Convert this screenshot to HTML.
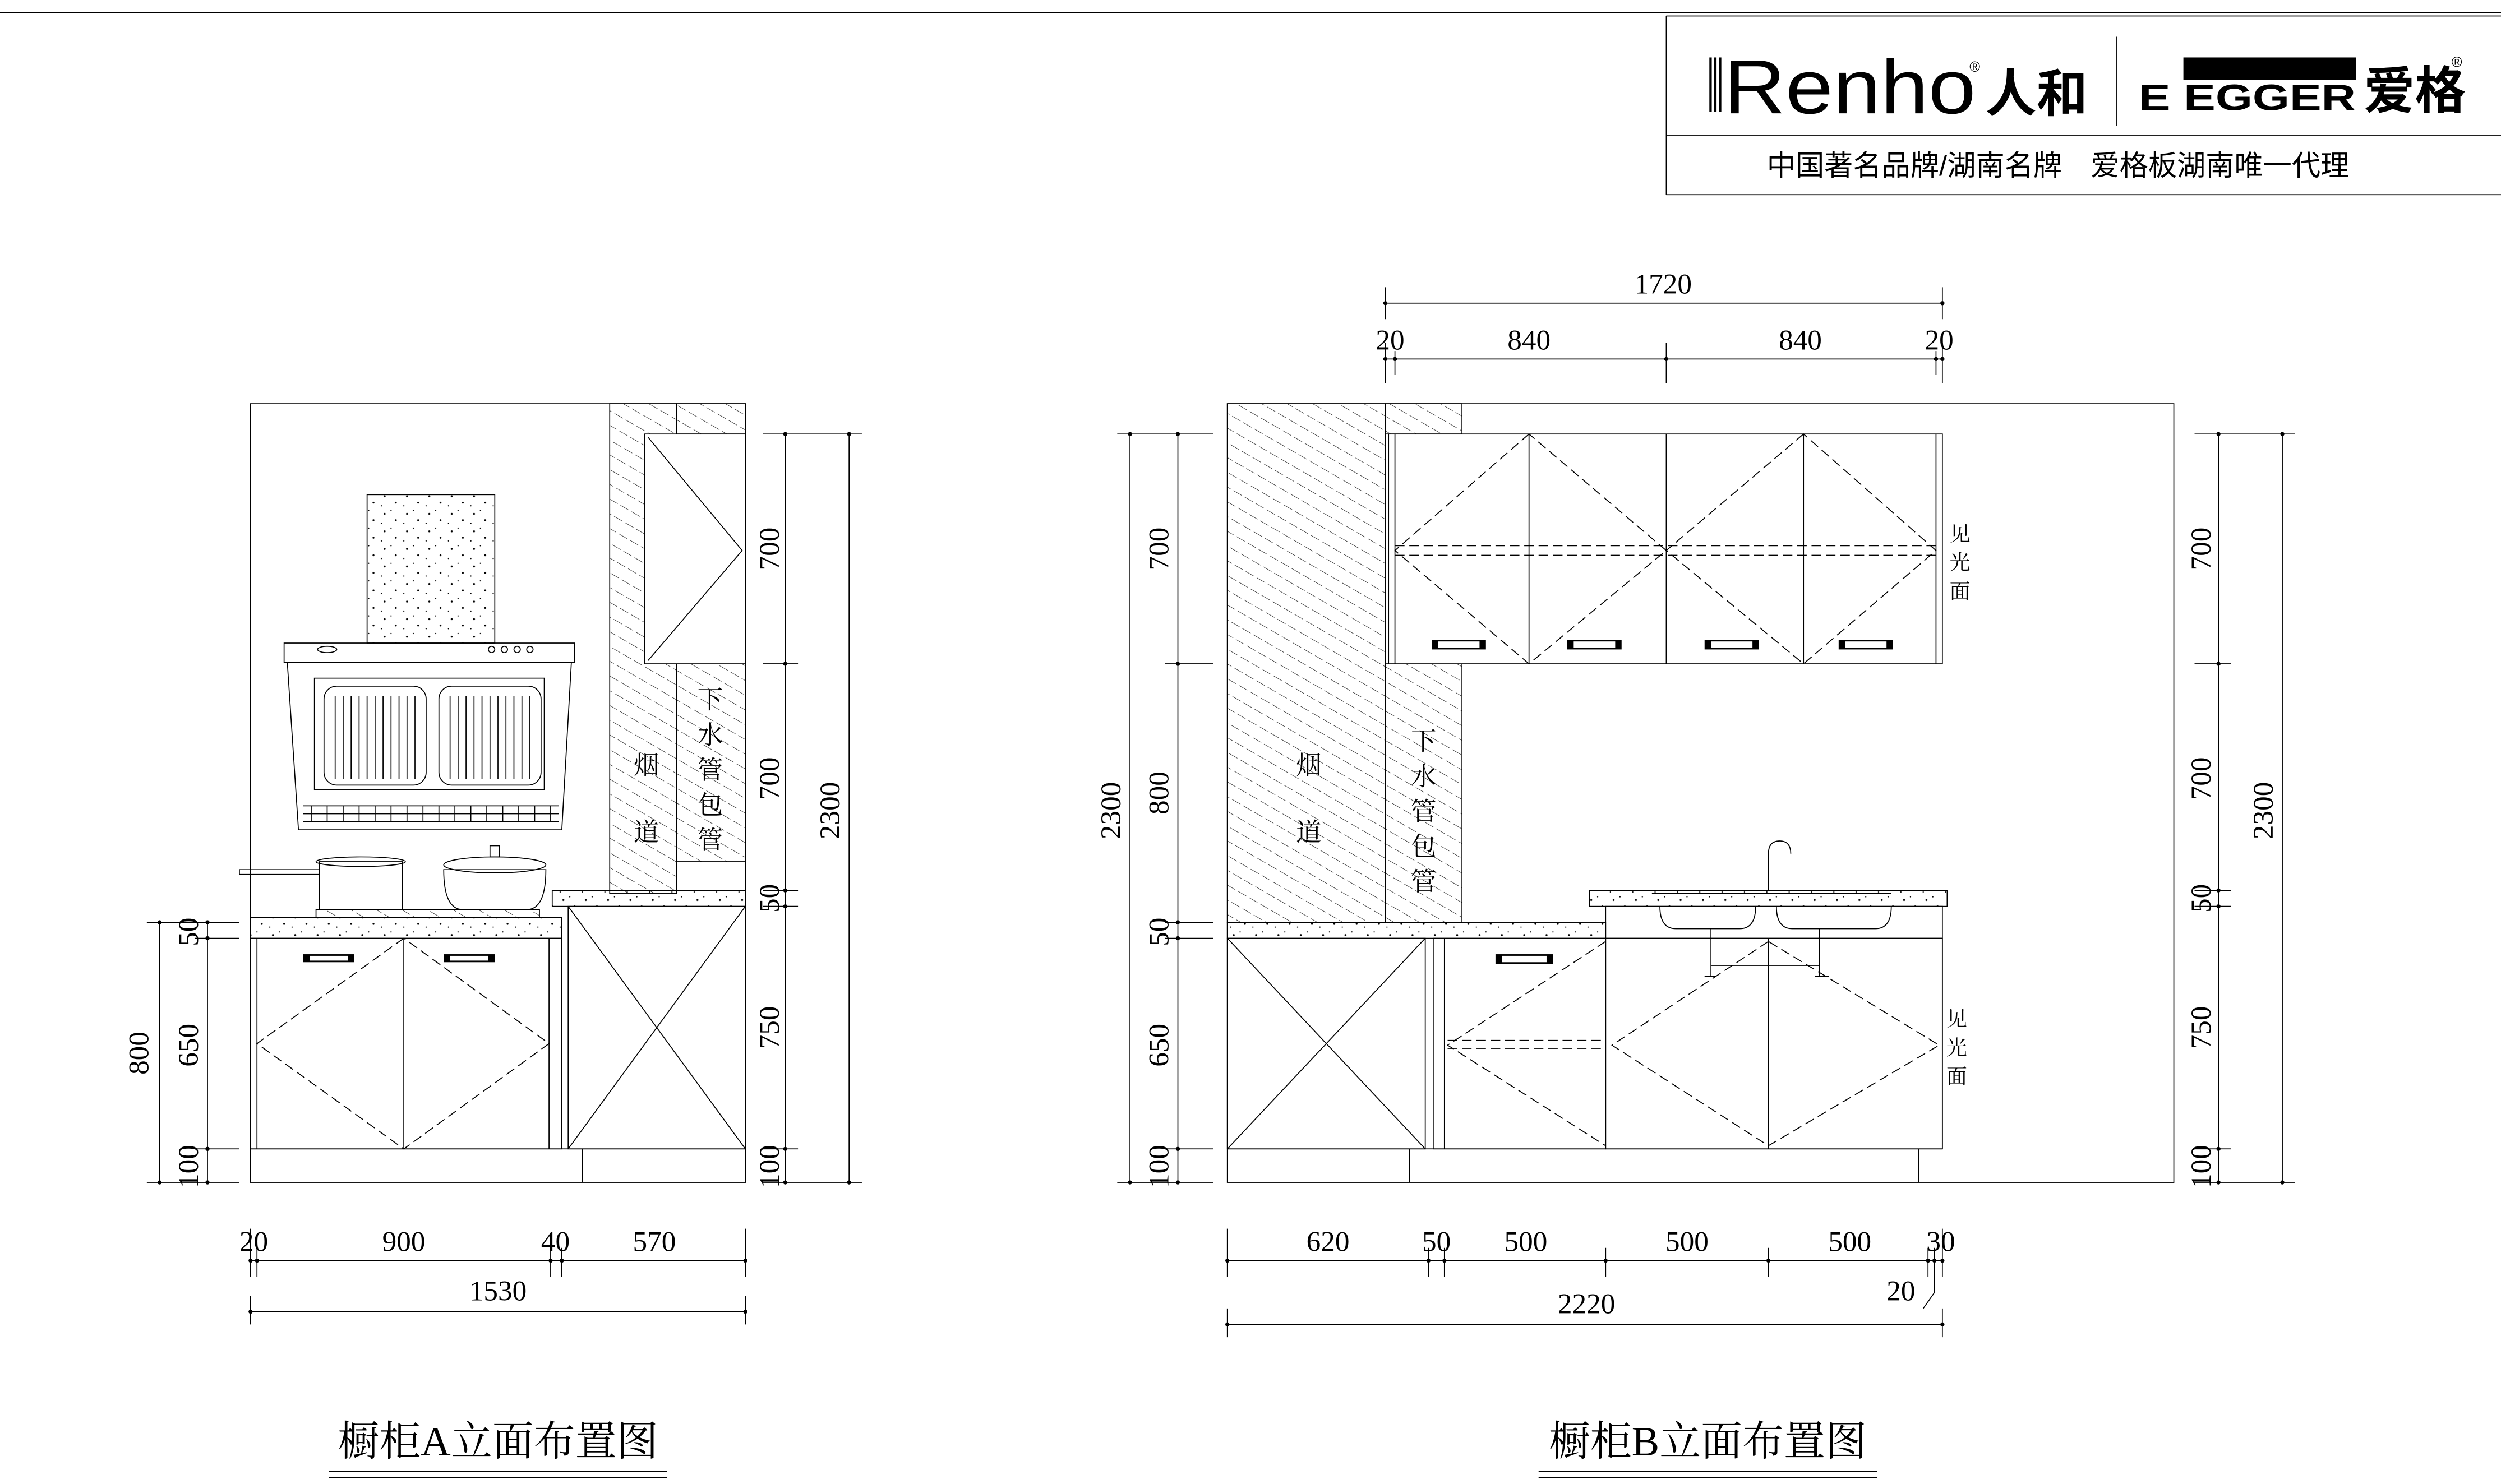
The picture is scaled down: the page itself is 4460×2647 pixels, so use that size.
<!DOCTYPE html>
<html><head><meta charset="utf-8"><style>
html,body{margin:0;padding:0;background:#fff;}
svg{display:block;}
text{font-family:"Liberation Serif","Noto Serif CJK SC",serif;fill:#000;}
.s{font-family:"Liberation Sans","Noto Sans CJK SC",sans-serif;}
</style></head><body>
<svg width="4460" height="2647" viewBox="0 0 1567 930" preserveAspectRatio="none" xmlns="http://www.w3.org/2000/svg">
<defs>
<pattern id="h" width="8" height="8" patternUnits="userSpaceOnUse" patternTransform="rotate(-60)">
<line x1="0" y1="0" x2="0" y2="8" stroke="#000" stroke-width="0.5" stroke-dasharray="5 2"/>
</pattern>
<pattern id="g" width="14" height="11" patternUnits="userSpaceOnUse">
<circle cx="3" cy="3" r="0.6" fill="#000"/><circle cx="10" cy="7" r="0.6" fill="#000"/><circle cx="7" cy="1" r="0.4" fill="#000"/><circle cx="1" cy="9" r="0.4" fill="#000"/>
</pattern>
</defs>
<rect width="1567" height="930" fill="#fff"/>
<g fill="none" stroke="#000" stroke-width="0.6">
<line x1="0" y1="8" x2="1567" y2="8" stroke-width="0.8"/>
<line x1="1044" y1="10" x2="1044" y2="122"/>
<line x1="1044" y1="10" x2="1567" y2="10"/>
<line x1="1044" y1="85" x2="1567" y2="85"/>
<line x1="1044" y1="122" x2="1567" y2="122"/>
<line x1="1326" y1="23" x2="1326" y2="79"/>
</g>
<!-- logo -->
<g>
<rect x="1071" y="36" width="1.5" height="34"/><rect x="1074" y="36" width="1.5" height="34"/><rect x="1077" y="36" width="1.5" height="34"/>
<text x="1080" y="71" class="s" font-size="48" textLength="158" lengthAdjust="spacingAndGlyphs">Renho</text>
<text x="1234" y="45" class="s" font-size="9">®</text>
<text x="1244" y="70" class="s" font-size="32" font-weight="bold">人和</text>
<rect x="1368" y="36" width="108" height="14"/>
<text x="1340" y="69" class="s" font-size="23" font-weight="bold" textLength="136" lengthAdjust="spacingAndGlyphs">E EGGER</text>
<text x="1481" y="68" class="s" font-size="32" font-weight="bold">爱格</text>
<text x="1536" y="42" class="s" font-size="9">®</text>
<text x="1107" y="110" class="s" font-size="18">中国著名品牌/湖南名牌　爱格板湖南唯一代理</text>
</g>

<!-- ===== Drawing A ===== -->
<g fill="none" stroke="#000" stroke-width="0.6">
<rect x="157" y="253" width="310" height="488"/>
<rect x="382" y="253" width="42" height="307" fill="url(#h)"/>
<rect x="424" y="253" width="43" height="19" fill="url(#h)"/>
<rect x="424" y="416" width="43" height="124" fill="url(#h)"/>
<rect x="404" y="272" width="63" height="144" fill="#fff"/>
<polyline points="406,274 465,345 406,414"/>
<rect x="157" y="575" width="195" height="13" fill="url(#g)"/>
<rect x="346" y="558" width="121" height="10" fill="url(#g)"/>
<rect x="157" y="588" width="195" height="132"/>
<path d="M161 588 V720 M344 588 V720"/>
<line x1="253" y1="588" x2="253" y2="720"/>
<polygon points="253,588 161,654 253,720 344,654" stroke-dasharray="6 3"/>
<rect x="356" y="568" width="111" height="152"/>
<line x1="356" y1="568" x2="467" y2="720"/><line x1="467" y1="568" x2="356" y2="720"/>
<line x1="157" y1="720" x2="467" y2="720"/>
<line x1="365" y1="720" x2="365" y2="741"/>
<!-- hood -->
<rect x="230" y="310" width="80" height="93" fill="url(#g)"/>
<rect x="178" y="403" width="182" height="12"/>
<polygon points="180,415 358,415 352,520 187,520"/>
<rect x="197" y="425" width="144" height="70"/>
<rect x="203" y="430" width="64" height="62" rx="8"/>
<rect x="275" y="430" width="64" height="62" rx="8"/>
<path d="M210 436 V488 M215 436 V488 M220 436 V488 M225 436 V488 M230 436 V488 M235 436 V488 M240 436 V488 M245 436 V488 M250 436 V488 M255 436 V488 M260 436 V488 M282 436 V488 M287 436 V488 M292 436 V488 M297 436 V488 M302 436 V488 M307 436 V488 M312 436 V488 M317 436 V488 M322 436 V488 M327 436 V488 M332 436 V488"/>
<path d="M190 505 H350 M190 510 H350 M190 515 H350"/>
<path d="M195 505 V515 M205 505 V515 M215 505 V515 M225 505 V515 M235 505 V515 M245 505 V515 M255 505 V515 M265 505 V515 M275 505 V515 M285 505 V515 M295 505 V515 M305 505 V515 M315 505 V515 M325 505 V515 M335 505 V515 M345 505 V515"/>
<ellipse cx="205" cy="407" rx="6" ry="2"/>
<circle cx="308" cy="407" r="2"/><circle cx="316" cy="407" r="2"/><circle cx="324" cy="407" r="2"/><circle cx="332" cy="407" r="2"/>
<rect x="200" y="540" width="52" height="30"/>
<path d="M200 545 H150 V548 H200"/>
<ellipse cx="226" cy="540" rx="28" ry="3"/>
<path d="M278 545 Q278 570 290 570 H330 Q342 570 342 545 Z"/>
<ellipse cx="310" cy="542" rx="32" ry="5"/>
<rect x="307" y="530" width="6" height="7"/>
<rect x="198" y="570" width="140" height="5" fill="url(#h)"/>
<line x1="100" y1="578" x2="100" y2="741"/>
<line x1="130" y1="578" x2="130" y2="741"/>
<path d="M92 578 H150 M92 741 H150 M122 588 H150 M122 720 H150"/>
<line x1="492" y1="272" x2="492" y2="741"/>
<line x1="532" y1="272" x2="532" y2="741"/>
<path d="M478 272 H540 M478 416 H500 M478 558 H500 M478 568 H500 M478 720 H500 M478 741 H540"/>
<line x1="157" y1="790" x2="467" y2="790"/>
<path d="M157 770 V800 M161 782 V800 M345 782 V800 M352 782 V800 M467 770 V800"/>
<line x1="157" y1="822" x2="467" y2="822"/>
<path d="M157 812 V830 M467 812 V830"/>
</g>
<g fill="#000">
<circle cx="100" cy="578" r="1.3"/><circle cx="100" cy="741" r="1.3"/><circle cx="130" cy="578" r="1.3"/><circle cx="130" cy="588" r="1.3"/><circle cx="130" cy="720" r="1.3"/><circle cx="130" cy="741" r="1.3"/>
<circle cx="492" cy="272" r="1.3"/><circle cx="492" cy="416" r="1.3"/><circle cx="492" cy="558" r="1.3"/><circle cx="492" cy="568" r="1.3"/><circle cx="492" cy="720" r="1.3"/><circle cx="492" cy="741" r="1.3"/><circle cx="532" cy="272" r="1.3"/><circle cx="532" cy="741" r="1.3"/>
<circle cx="157" cy="790" r="1.3"/><circle cx="161" cy="790" r="1.3"/><circle cx="345" cy="790" r="1.3"/><circle cx="352" cy="790" r="1.3"/><circle cx="467" cy="790" r="1.3"/><circle cx="157" cy="822" r="1.3"/><circle cx="467" cy="822" r="1.3"/>
<rect x="190" y="598" width="32" height="5"/><rect x="278" y="598" width="32" height="5"/>
</g>
<g fill="#fff"><rect x="194" y="599" width="24" height="3"/><rect x="282" y="599" width="24" height="3"/></g>
<g font-size="18">
<text transform="translate(93,660) rotate(-90)" text-anchor="middle">800</text>
<text transform="translate(124,655) rotate(-90)" text-anchor="middle">650</text>
<text transform="translate(124,584) rotate(-90)" text-anchor="middle">50</text>
<text transform="translate(124,731) rotate(-90)" text-anchor="middle">100</text>
<text transform="translate(488,344) rotate(-90)" text-anchor="middle">700</text>
<text transform="translate(488,488) rotate(-90)" text-anchor="middle">700</text>
<text transform="translate(488,563) rotate(-90)" text-anchor="middle">50</text>
<text transform="translate(488,644) rotate(-90)" text-anchor="middle">750</text>
<text transform="translate(488,731) rotate(-90)" text-anchor="middle">100</text>
<text transform="translate(526,508) rotate(-90)" text-anchor="middle">2300</text>
<text x="159" y="784" text-anchor="middle">20</text>
<text x="253" y="784" text-anchor="middle">900</text>
<text x="348" y="784" text-anchor="middle">40</text>
<text x="410" y="784" text-anchor="middle">570</text>
<text x="312" y="815" text-anchor="middle">1530</text>
</g>
<g font-size="16">
<text x="405" y="485" text-anchor="middle">烟</text><text x="405" y="527" text-anchor="middle">道</text>
<text x="445" y="444" text-anchor="middle">下</text><text x="445" y="466" text-anchor="middle">水</text><text x="445" y="488" text-anchor="middle">管</text><text x="445" y="510" text-anchor="middle">包</text><text x="445" y="532" text-anchor="middle">管</text>
</g>

<!-- ===== Drawing B ===== -->
<g fill="none" stroke="#000" stroke-width="0.6">
<rect x="769" y="253" width="593" height="488"/>
<rect x="769" y="253" width="99" height="325" fill="url(#h)"/>
<rect x="868" y="253" width="48" height="19" fill="url(#h)"/>
<rect x="868" y="416" width="48" height="162" fill="url(#h)"/>
<rect x="870" y="272" width="347" height="144" fill="#fff"/>
<path d="M874 272 V416 M958 272 V416 M1044 272 V416 M1130 272 V416 M1213 272 V416"/>
<g stroke-dasharray="6 3">
<polygon points="958,272 874,345 958,416 1044,345"/>
<polygon points="1130,272 1044,345 1130,416 1213,345"/>
<path d="M874 342 H1213 M874 348 H1213"/>
</g>
<rect x="769" y="578" width="237" height="10" fill="url(#g)"/>
<rect x="996" y="558" width="224" height="10" fill="url(#g)"/>
<rect x="1006" y="568" width="211" height="20"/>
<rect x="769" y="588" width="124" height="132"/>
<line x1="769" y1="588" x2="893" y2="720"/><line x1="893" y1="588" x2="769" y2="720"/>
<rect x="898" y="588" width="108" height="132"/>
<line x1="905" y1="588" x2="905" y2="720"/>
<rect x="1006" y="588" width="211" height="132"/>
<line x1="1108" y1="588" x2="1108" y2="720"/>
<g stroke-dasharray="6 3">
<polyline points="1006,590 907,655 1006,718"/>
<path d="M907 652 H1006 M907 657 H1006"/>
<polygon points="1108,590 1010,655 1108,718 1215,655"/>
</g>
<line x1="769" y1="720" x2="1217" y2="720"/>
<path d="M883 720 V741 M1202 720 V741 M1217 588 V720"/>
<path d="M1035 560 H1185 M1040 568 Q1040 582 1050 582 H1090 Q1100 582 1100 568 M1113 568 Q1113 582 1123 582 H1175 Q1185 582 1185 568"/>
<path d="M1108 558 V535 Q1108 527 1115 527 Q1122 527 1122 535 M1103 558 H1113"/>
<path d="M1072 582 V612 M1140 582 V612 M1072 605 H1140 M1108 605 V625 M1075 612 H1068 M1137 612 H1146"/>
<line x1="868" y1="190" x2="1217" y2="190"/>
<path d="M868 180 V200 M1217 180 V200"/>
<line x1="868" y1="225" x2="1217" y2="225"/>
<path d="M868 215 V240 M874 220 V235 M1044 215 V240 M1213 220 V235 M1217 215 V240"/>
<line x1="708" y1="272" x2="708" y2="741"/>
<line x1="738" y1="272" x2="738" y2="741"/>
<path d="M700 272 H760 M730 416 H760 M730 578 H760 M730 588 H760 M730 720 H760 M700 741 H760"/>
<line x1="1390" y1="272" x2="1390" y2="741"/>
<line x1="1430" y1="272" x2="1430" y2="741"/>
<path d="M1375 272 H1438 M1375 416 H1398 M1375 558 H1398 M1375 568 H1398 M1375 720 H1398 M1375 741 H1438"/>
<line x1="769" y1="790" x2="1217" y2="790"/>
<path d="M769 770 V800 M895 782 V800 M905 782 V800 M1006 782 V800 M1108 782 V800 M1208 782 V800 M1212 782 V800 M1217 770 V800"/>
<path d="M1212 790 L1212 810 L1205 820"/>
<line x1="769" y1="830" x2="1217" y2="830"/>
<path d="M769 820 V838 M1217 820 V838"/>
</g>
<g fill="#000">
<circle cx="868" cy="190" r="1.3"/><circle cx="1217" cy="190" r="1.3"/>
<circle cx="868" cy="225" r="1.3"/><circle cx="874" cy="225" r="1.3"/><circle cx="1044" cy="225" r="1.3"/><circle cx="1213" cy="225" r="1.3"/><circle cx="1217" cy="225" r="1.3"/>
<circle cx="708" cy="272" r="1.3"/><circle cx="708" cy="741" r="1.3"/><circle cx="738" cy="272" r="1.3"/><circle cx="738" cy="416" r="1.3"/><circle cx="738" cy="578" r="1.3"/><circle cx="738" cy="588" r="1.3"/><circle cx="738" cy="720" r="1.3"/><circle cx="738" cy="741" r="1.3"/>
<circle cx="1390" cy="272" r="1.3"/><circle cx="1390" cy="416" r="1.3"/><circle cx="1390" cy="558" r="1.3"/><circle cx="1390" cy="568" r="1.3"/><circle cx="1390" cy="720" r="1.3"/><circle cx="1390" cy="741" r="1.3"/><circle cx="1430" cy="272" r="1.3"/><circle cx="1430" cy="741" r="1.3"/>
<circle cx="769" cy="790" r="1.3"/><circle cx="895" cy="790" r="1.3"/><circle cx="905" cy="790" r="1.3"/><circle cx="1006" cy="790" r="1.3"/><circle cx="1108" cy="790" r="1.3"/><circle cx="1208" cy="790" r="1.3"/><circle cx="1212" cy="790" r="1.3"/><circle cx="1217" cy="790" r="1.3"/><circle cx="769" cy="830" r="1.3"/><circle cx="1217" cy="830" r="1.3"/>
<rect x="897" y="401" width="34" height="6"/><rect x="982" y="401" width="34" height="6"/><rect x="1068" y="401" width="34" height="6"/><rect x="1152" y="401" width="34" height="6"/>
<rect x="937" y="598" width="36" height="6"/>
</g>
<g fill="#fff"><rect x="901" y="402" width="26" height="4"/><rect x="986" y="402" width="26" height="4"/><rect x="1072" y="402" width="26" height="4"/><rect x="1156" y="402" width="26" height="4"/><rect x="941" y="599" width="28" height="4"/></g>
<g font-size="18">
<text x="1042" y="184" text-anchor="middle">1720</text>
<text x="871" y="219" text-anchor="middle">20</text>
<text x="958" y="219" text-anchor="middle">840</text>
<text x="1128" y="219" text-anchor="middle">840</text>
<text x="1215" y="219" text-anchor="middle">20</text>
<text transform="translate(702,508) rotate(-90)" text-anchor="middle">2300</text>
<text transform="translate(732,344) rotate(-90)" text-anchor="middle">700</text>
<text transform="translate(732,497) rotate(-90)" text-anchor="middle">800</text>
<text transform="translate(732,584) rotate(-90)" text-anchor="middle">50</text>
<text transform="translate(732,655) rotate(-90)" text-anchor="middle">650</text>
<text transform="translate(732,731) rotate(-90)" text-anchor="middle">100</text>
<text transform="translate(1385,344) rotate(-90)" text-anchor="middle">700</text>
<text transform="translate(1385,488) rotate(-90)" text-anchor="middle">700</text>
<text transform="translate(1385,563) rotate(-90)" text-anchor="middle">50</text>
<text transform="translate(1385,644) rotate(-90)" text-anchor="middle">750</text>
<text transform="translate(1385,731) rotate(-90)" text-anchor="middle">100</text>
<text transform="translate(1424,508) rotate(-90)" text-anchor="middle">2300</text>
<text x="832" y="784" text-anchor="middle">620</text>
<text x="900" y="784" text-anchor="middle">50</text>
<text x="956" y="784" text-anchor="middle">500</text>
<text x="1057" y="784" text-anchor="middle">500</text>
<text x="1159" y="784" text-anchor="middle">500</text>
<text x="1216" y="784" text-anchor="middle">30</text>
<text x="1191" y="815" text-anchor="middle">20</text>
<text x="994" y="823" text-anchor="middle">2220</text>
</g>
<g font-size="16">
<text x="820" y="485" text-anchor="middle">烟</text><text x="820" y="527" text-anchor="middle">道</text>
<text x="892" y="470" text-anchor="middle">下</text><text x="892" y="492" text-anchor="middle">水</text><text x="892" y="514" text-anchor="middle">管</text><text x="892" y="536" text-anchor="middle">包</text><text x="892" y="558" text-anchor="middle">管</text>
</g>
<g font-size="13">
<text x="1228" y="339" text-anchor="middle">见</text><text x="1228" y="357" text-anchor="middle">光</text><text x="1228" y="375" text-anchor="middle">面</text>
<text x="1226" y="643" text-anchor="middle">见</text><text x="1226" y="661" text-anchor="middle">光</text><text x="1226" y="679" text-anchor="middle">面</text>
</g>
<g font-size="26">
<text x="312" y="912" text-anchor="middle">橱柜A立面布置图</text>
<text x="1070" y="912" text-anchor="middle">橱柜B立面布置图</text>
</g>
<g stroke="#000" stroke-width="0.6">
<line x1="206" y1="922" x2="418" y2="922"/><line x1="206" y1="926" x2="418" y2="926"/>
<line x1="964" y1="922" x2="1176" y2="922"/><line x1="964" y1="926" x2="1176" y2="926"/>
</g>
</svg>
</body></html>
